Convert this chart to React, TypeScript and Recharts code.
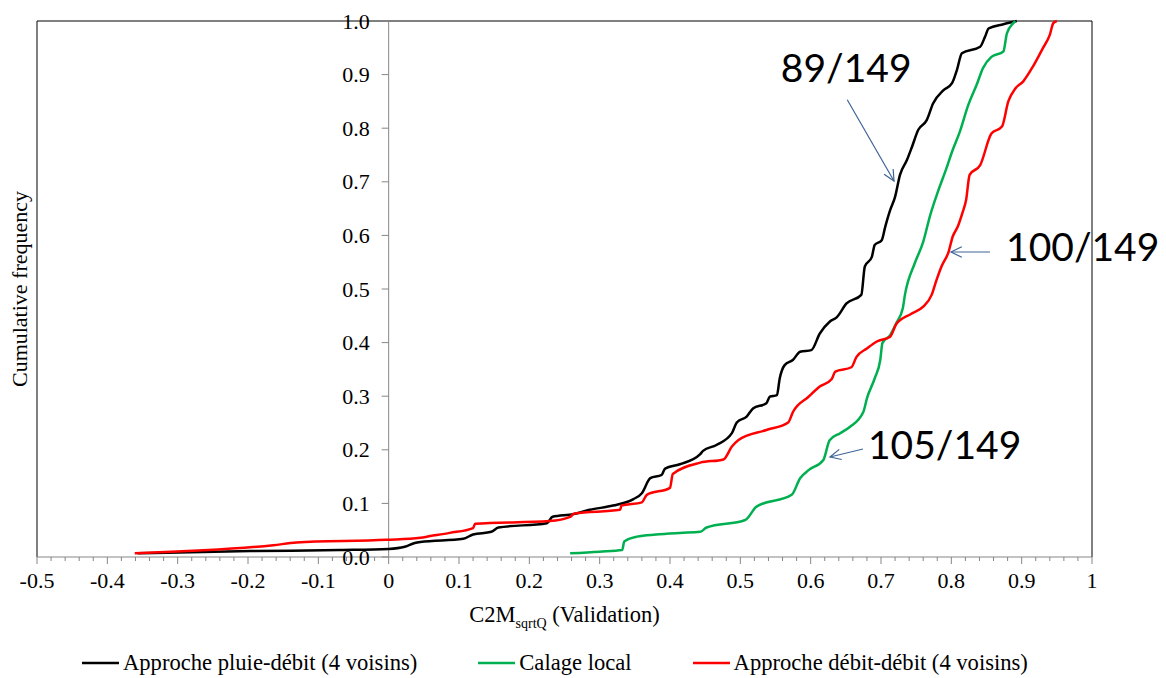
import { LineChart, Line, XAxis, YAxis, ReferenceLine, Legend } from 'recharts'

// C2M sqrtQ (validation) values against cumulative frequency
const pluieDebit: [number, number][] = [
  [-0.357, 0.007], [-0.196, 0.011], [-0.069, 0.013], [0.0, 0.015], [0.023, 0.019], [0.037, 0.026],
  [0.045, 0.028], [0.106, 0.034], [0.12, 0.042], [0.146, 0.047], [0.156, 0.055], [0.225, 0.063],
  [0.233, 0.075], [0.263, 0.08], [0.286, 0.088], [0.319, 0.096], [0.348, 0.108], [0.36, 0.119],
  [0.372, 0.147], [0.388, 0.153], [0.393, 0.165], [0.414, 0.173], [0.443, 0.192], [0.447, 0.198],
  [0.466, 0.209], [0.488, 0.231], [0.495, 0.251], [0.509, 0.262], [0.518, 0.277], [0.537, 0.287],
  [0.542, 0.299], [0.552, 0.302], [0.556, 0.333], [0.563, 0.358], [0.575, 0.368], [0.585, 0.383],
  [0.601, 0.386], [0.613, 0.417], [0.627, 0.439], [0.637, 0.447], [0.651, 0.473], [0.672, 0.489],
  [0.677, 0.542], [0.687, 0.56], [0.691, 0.582], [0.701, 0.591], [0.706, 0.616], [0.713, 0.647],
  [0.72, 0.672], [0.727, 0.713], [0.737, 0.741], [0.744, 0.765], [0.753, 0.797], [0.765, 0.815],
  [0.774, 0.846], [0.789, 0.871], [0.801, 0.884], [0.808, 0.909], [0.815, 0.94], [0.841, 0.952],
  [0.848, 0.971], [0.853, 0.986], [0.874, 0.994], [0.893, 1.0],
]

const calageLocal: [number, number][] = [
  [0.258, 0.007], [0.3, 0.01], [0.332, 0.013], [0.335, 0.029], [0.353, 0.038], [0.38, 0.042],
  [0.414, 0.045], [0.443, 0.047], [0.452, 0.055], [0.507, 0.069], [0.523, 0.094], [0.573, 0.116],
  [0.585, 0.147], [0.597, 0.162], [0.618, 0.181], [0.627, 0.218], [0.642, 0.231], [0.656, 0.243],
  [0.675, 0.271], [0.68, 0.296], [0.691, 0.333], [0.699, 0.368], [0.702, 0.399], [0.713, 0.414],
  [0.722, 0.437], [0.731, 0.464], [0.734, 0.489], [0.748, 0.548], [0.76, 0.588], [0.77, 0.638],
  [0.781, 0.682], [0.793, 0.725], [0.801, 0.756], [0.812, 0.793], [0.824, 0.843], [0.836, 0.881],
  [0.845, 0.912], [0.857, 0.933], [0.874, 0.943], [0.879, 0.977], [0.888, 0.996], [0.891, 1.0],
]

const debitDebit: [number, number][] = [
  [-0.361, 0.007], [-0.164, 0.022], [-0.131, 0.027], [-0.003, 0.032], [0.045, 0.036], [0.059, 0.039],
  [0.087, 0.045], [0.12, 0.054], [0.123, 0.062], [0.229, 0.067], [0.258, 0.075], [0.264, 0.081],
  [0.329, 0.088], [0.331, 0.096], [0.36, 0.102], [0.367, 0.116], [0.4, 0.129], [0.404, 0.155],
  [0.443, 0.176], [0.476, 0.182], [0.488, 0.206], [0.497, 0.218], [0.537, 0.237], [0.568, 0.251],
  [0.575, 0.271], [0.597, 0.299], [0.613, 0.318], [0.63, 0.332], [0.635, 0.346], [0.658, 0.354],
  [0.665, 0.373], [0.68, 0.389], [0.694, 0.402], [0.713, 0.411], [0.722, 0.435], [0.742, 0.453],
  [0.76, 0.467], [0.772, 0.489], [0.779, 0.517], [0.786, 0.542], [0.796, 0.569], [0.802, 0.598],
  [0.809, 0.616], [0.816, 0.643], [0.821, 0.666], [0.826, 0.713], [0.841, 0.731], [0.857, 0.79],
  [0.872, 0.803], [0.881, 0.85], [0.891, 0.874], [0.902, 0.887], [0.916, 0.915], [0.93, 0.949],
  [0.94, 0.974], [0.945, 0.996], [0.95, 1.0],
]

const seriesNames = ['Approche pluie-débit (4 voisins)', 'Calage local', 'Approche débit-débit (4 voisins)']
const seriesColors = ['#000000', '#00B050', '#FF0000']
const seriesPoints = [pluieDebit, calageLocal, debitDebit]

const yTicks = [0, 0.1, 0.2, 0.3, 0.4, 0.5, 0.6, 0.7, 0.8, 0.9, 1.0]
// major tick every 0.1, minor every 0.02
const xTicks = Array.from({ length: 76 }, (_, i) => (i - 25) / 50)

const annotations = [
  { label: '89/149', from: { x: 0.652, y: 0.853 }, to: { x: 0.7185, y: 0.7015 }, dx: -1, dy: -18, anchor: 'middle' },
  { label: '100/149', from: { x: 0.855, y: 0.569 }, to: { x: 0.7995, y: 0.569 }, dx: 16, dy: 9, anchor: 'start' },
  { label: '105/149', from: { x: 0.6744, y: 0.2015 }, to: { x: 0.6275, y: 0.1866 }, dx: 5, dy: 10, anchor: 'start' },
]

const W = 1166
const H = 678
const M = { top: 21, right: 74, bottom: 120, left: 36 }
const X_MIN = -0.5
const X_MAX = 1
const PLOT_L = M.left + 1
const PLOT_W = W - PLOT_L - M.right
const X0 = PLOT_L + (PLOT_W * (0 - X_MIN)) / (X_MAX - X_MIN)

const SERIF = '"Liberation Serif", "Times New Roman", serif'
const AXIS_GREY = '#868686'
const ARROW = '#3E6496'

const fmtX = (v: number) => String(Math.round(v * 10) / 10)

function XTick(props: any) {
  const { x, y, payload } = props
  const v = payload.value as number
  const major = Math.abs(v * 10 - Math.round(v * 10)) < 1e-6
  return (
    <g>
      <line x1={x} x2={x} y1={y} y2={y + (major ? 7 : 4)} stroke={AXIS_GREY} />
      {major && (
        <text x={x} y={y + 31} textAnchor="middle" fontSize={22} fontFamily={SERIF} fill="#000">
          {fmtX(v)}
        </text>
      )}
    </g>
  )
}

function YTick(props: any) {
  const { y, payload } = props
  return (
    <g>
      <line x1={X0 - 7} x2={X0} y1={y} y2={y} stroke={AXIS_GREY} />
      <text x={X0 - 19} y={y + 7.5} textAnchor="end" fontSize={22} fontFamily={SERIF} fill="#000">
        {(payload.value as number).toFixed(1)}
      </text>
    </g>
  )
}

function arrowShape(label: string, dx: number, dy: number, anchor: string) {
  return (props: any) => {
    const { x1, y1, x2, y2 } = props
    const ang = Math.atan2(y2 - y1, x2 - x1)
    const len = 12
    const spread = 0.45
    const h1x = x2 - len * Math.cos(ang - spread)
    const h1y = y2 - len * Math.sin(ang - spread)
    const h2x = x2 - len * Math.cos(ang + spread)
    const h2y = y2 - len * Math.sin(ang + spread)
    return (
      <g>
        <line x1={x1} y1={y1} x2={x2} y2={y2} stroke={ARROW} strokeWidth={1.2} />
        <polyline points={`${h1x},${h1y} ${x2},${y2} ${h2x},${h2y}`} fill="none" stroke={ARROW} strokeWidth={1.2} />
        <text x={x1 + dx} y={y1 + dy} textAnchor={anchor as any} fontSize={39} fontFamily="Lato, 'Open Sans', sans-serif" fill="#000">
          {label}
        </text>
      </g>
    )
  }
}

function XTitle(props: any) {
  const { viewBox } = props
  const cx = viewBox.x + viewBox.width / 2
  return (
    <text x={cx} y={viewBox.y + 65} textAnchor="middle" fontSize={22.5} fontFamily={SERIF} fill="#000">
      C2M
      <tspan fontSize={14} dy={6}>sqrtQ</tspan>
      <tspan dy={-6}> (Validation)</tspan>
    </text>
  )
}

function YTitle(props: any) {
  const { viewBox } = props
  const cy = viewBox.y + viewBox.height / 2
  const x = 27
  return (
    <text x={x} y={cy} transform={`rotate(-90 ${x} ${cy})`} textAnchor="middle" fontSize={22} fontFamily={SERIF} fill="#000">
      Cumulative frequency
    </text>
  )
}

function LegendContent() {
  return (
    <div style={{ display: 'flex', alignItems: 'center', paddingLeft: 82, gap: 61, height: 26, fontFamily: SERIF, fontSize: 22.6, lineHeight: '26px', color: '#000' }}>
      {seriesNames.map((name, i) => (
        <div key={name} style={{ display: 'flex', alignItems: 'center' }}>
          <svg width={37} height={6} style={{ marginRight: 4 }}>
            <line x1={0} x2={37} y1={3} y2={3} stroke={seriesColors[i]} strokeWidth={2.5} />
          </svg>
          <span style={{ whiteSpace: 'nowrap' }}>{name}</span>
        </div>
      ))}
    </div>
  )
}

export default function App() {
  return (
    <div style={{ position: 'absolute', left: 0, top: 0, width: W, height: H, background: '#fff' }}>
      <LineChart width={W} height={H} margin={M}>
        <XAxis
          type="number"
          dataKey="x"
          domain={[X_MIN, X_MAX]}
          ticks={xTicks}
          interval={0}
          allowDataOverflow
          height={1}
          tickSize={0}
          tickMargin={0}
          tickLine={false}
          tick={<XTick />}
          axisLine={{ stroke: AXIS_GREY }}
          label={{ content: <XTitle /> }}
        />
        <YAxis
          type="number"
          domain={[0, 1]}
          ticks={yTicks}
          interval={0}
          width={1}
          tickSize={0}
          tickMargin={0}
          tickLine={false}
          axisLine={false}
          tick={<YTick />}
          label={{ content: <YTitle /> }}
        />
        <ReferenceLine y={1} stroke="#000" strokeWidth={1} ifOverflow="visible" />
        <ReferenceLine x={X_MIN} stroke="#000" strokeWidth={1} ifOverflow="visible" />
        <ReferenceLine x={X_MAX} stroke="#000" strokeWidth={1} ifOverflow="visible" />
        <ReferenceLine x={0} stroke={AXIS_GREY} strokeWidth={1} ifOverflow="visible" />
        {seriesPoints.map((pts, i) => (
          <Line
            key={seriesNames[i]}
            name={seriesNames[i]}
            data={pts.map(([x, y]) => ({ x, y }))}
            dataKey="y"
            type="monotone"
            stroke={seriesColors[i]}
            strokeWidth={2.5}
            dot={false}
            activeDot={false}
            isAnimationActive={false}
          />
        ))}
        {annotations.map((a) => (
          <ReferenceLine
            key={a.label}
            segment={[a.from, a.to]}
            ifOverflow="visible"
            shape={arrowShape(a.label, a.dx, a.dy, a.anchor)}
          />
        ))}
        <Legend
          layout="horizontal"
          verticalAlign="middle"
          align="center"
          wrapperStyle={{ left: 0, top: 650, width: W }}
          content={() => <LegendContent />}
        />
      </LineChart>
    </div>
  )
}
